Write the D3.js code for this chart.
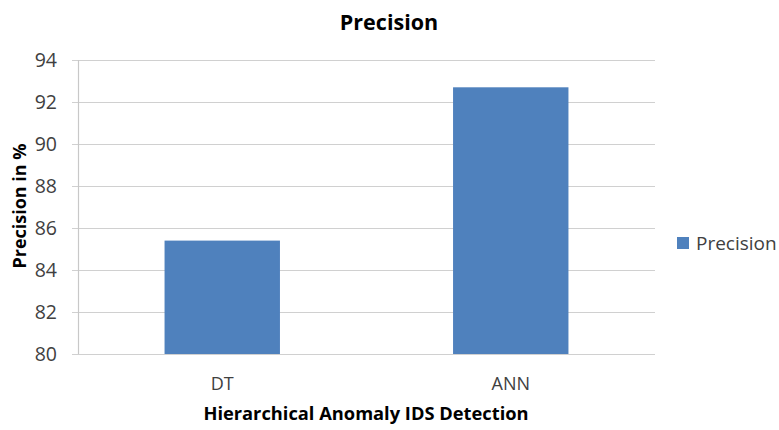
<!DOCTYPE html>
<html>
<head>
<meta charset="utf-8">
<script src="https://cdn.jsdelivr.net/npm/d3@7"></script>
<style>
  body { margin: 0; background: #fff; }
  text { font-family: "Open Sans", "Noto Sans", sans-serif; }
</style>
</head>
<body>
<svg id="chart" width="779" height="430"></svg>
<script>
const categories = ["DT", "ANN"];
const precisionValues = [85.4, 92.7];
const yTicks = [80, 82, 84, 86, 88, 90, 92, 94];
const seriesName = "Precision";

const svg = d3.select("#chart");
const margin = { left: 78, right: 124, top: 60, bottom: 76 };
const W = 779, H = 430;
const x = d3.scaleBand().domain(categories).range([margin.left, W - margin.right]).padding(0);
const y = d3.scaleLinear().domain([80, 94]).range([H - margin.bottom, margin.top]);

// gridlines
svg.append("g")
  .selectAll("line").data(yTicks).join("line")
  .attr("x1", margin.left - 6).attr("x2", W - margin.right)
  .attr("y1", d => Math.round(y(d)) + 0.5).attr("y2", d => Math.round(y(d)) + 0.5)
  .attr("stroke", "#d0d0d0").attr("stroke-width", 1.2);

// y axis line
svg.append("line")
  .attr("x1", margin.left + 0.5).attr("x2", margin.left + 0.5)
  .attr("y1", y(94)).attr("y2", y(80))
  .attr("stroke", "#c8c8c8").attr("stroke-width", 1.2);

// y tick labels
const yAxis = d3.axisLeft(y).tickValues(yTicks).tickSize(0).tickPadding(21);
const gy = svg.append("g").attr("transform", `translate(${margin.left},0)`).call(yAxis);
gy.select(".domain").remove();
gy.selectAll("text").attr("font-size", 19.5).attr("fill", "#404040")
  .style("font-family", "'Open Sans', sans-serif");

// bars
const barW = x.bandwidth() * 0.4;
svg.append("g").selectAll("rect").data(categories).join("rect")
  .attr("x", d => x(d) + (x.bandwidth() - barW) / 2)
  .attr("width", barW)
  .attr("y", (d, i) => y(precisionValues[i]))
  .attr("height", (d, i) => y(80) - y(precisionValues[i]))
  .attr("fill", "#4f81bd");

// x tick labels
const xAxis = d3.axisBottom(x).tickSize(0).tickPadding(23);
const gx = svg.append("g").attr("transform", `translate(0,${y(80)})`).call(xAxis);
gx.select(".domain").remove();
gx.selectAll("text").attr("font-size", 18).attr("fill", "#404040")
  .style("font-family", "'Open Sans', sans-serif");

// title
svg.append("text").attr("x", 389).attr("y", 30).attr("text-anchor", "middle")
  .attr("font-size", 21.5).attr("font-weight", "bold").attr("fill", "#000")
  .text("Precision");

// x axis title
svg.append("text").attr("x", 366).attr("y", 420).attr("text-anchor", "middle")
  .attr("font-size", 18.3).attr("font-weight", "bold").attr("fill", "#000")
  .text("Hierarchical Anomaly IDS Detection");

// y axis title
svg.append("text").attr("transform", "translate(26,206) rotate(-90)")
  .attr("text-anchor", "middle")
  .attr("font-size", 18).attr("font-weight", "bold").attr("fill", "#000")
  .text("Precision in %");

// legend
const lg = svg.append("g").attr("transform", "translate(677,237)");
lg.append("rect").attr("width", 12).attr("height", 12).attr("fill", "#4f81bd");
lg.append("text").attr("x", 19).attr("y", 12.5).attr("font-size", 19).attr("fill", "#404040")
  .text(seriesName);
</script>
</body>
</html>
